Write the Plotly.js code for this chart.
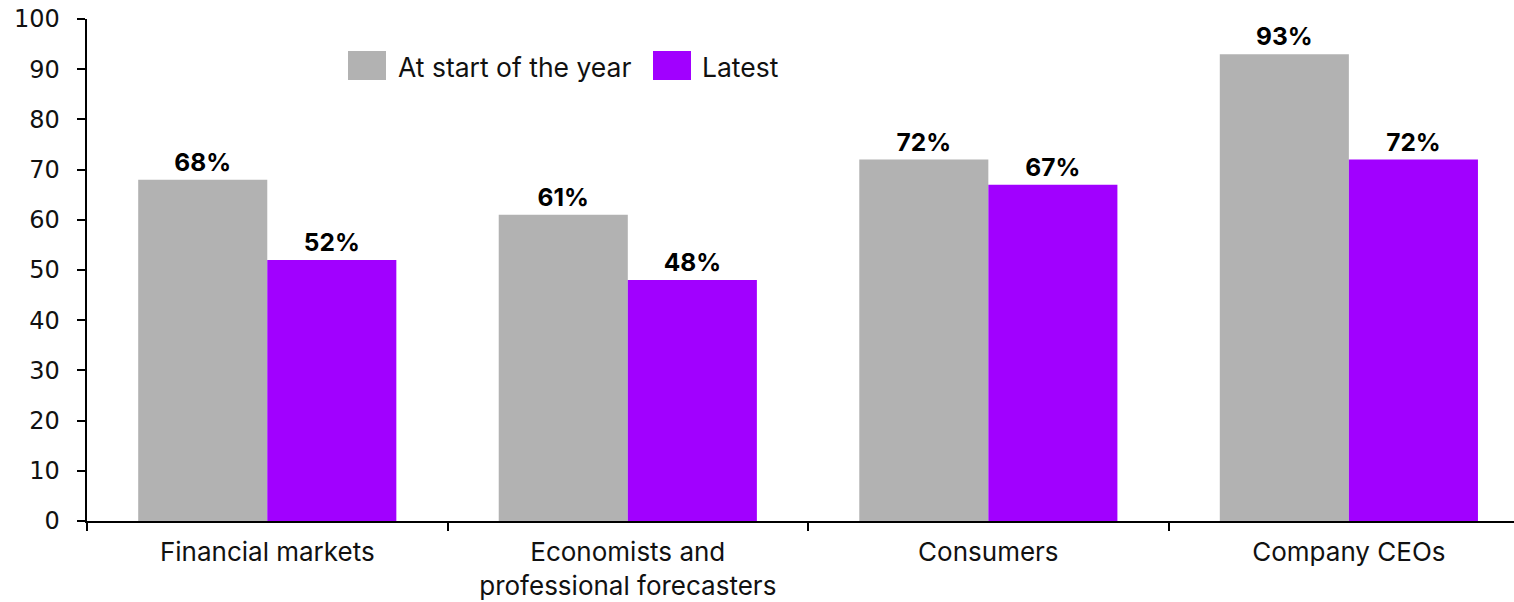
<!DOCTYPE html>
<html><head><meta charset="utf-8">
<script src="https://cdn.plot.ly/plotly-3.0.1.min.js"></script>
<style>html,body{margin:0;padding:0;background:#fff}#chart{width:1514px;height:602px}</style>
</head><body><div id="chart"></div>
<script>
const categories = ["Financial markets", "Economists and<br>professional forecasters", "Consumers", "Company CEOs"];
const seriesNames = ["At start of the year", "Latest"];
const startOfYear = [68, 61, 72, 93];
const latest = [52, 48, 67, 72];
const yTicks = [0,10,20,30,40,50,60,70,80,90,100];

const FONT = "Inter, 'Noto Sans', sans-serif";
const GREY = "#b2b2b2", PURPLE = "#a100ff";

// pixel helpers for the custom legend (plot area: x 87..1514, y 19..521.5)
const L = 87, R = 1514, T = 19, B = 521.5;
const px = v => (v - L) / (R - L);
const py = v => (B - v) / (B - T);

const common = {
  type: "bar", texttemplate: "%{y}%", textposition: "outside", cliponaxis: false,
  textfont: {family: FONT, size: 24.5, color: "#000", weight: 700},
  hoverinfo: "skip", showlegend: false
};
const traces = [
  Object.assign({}, common, {x: categories, y: startOfYear, name: seriesNames[0], marker: {color: GREY}}),
  Object.assign({}, common, {x: categories, y: latest, name: seriesNames[1], marker: {color: PURPLE}})
];

const layout = {
  width: 1514, height: 602,
  margin: {l: L, r: 0, t: T, b: 602 - B},
  paper_bgcolor: "#fff", plot_bgcolor: "#fff",
  barmode: "group", bargap: 0.284, bargroupgap: 0,
  font: {family: FONT, size: 22, color: "#000"},
  xaxis: {
    type: "category", range: [-0.5, 3.458], showline: true, linecolor: "#000", linewidth: 2,
    ticks: "outside", tickson: "boundaries", ticklen: 8, tickwidth: 2, tickcolor: "#000",
    ticklabelstandoff: 7,
    showgrid: false, zeroline: false, tickfont: {family: FONT, size: 26, color: "#111"}
  },
  yaxis: {
    range: [0, 100], tickmode: "array", tickvals: yTicks,
    ticktext: yTicks.map(v => v + "\u00a0\u2009"),
    showline: true, linecolor: "#000", linewidth: 2,
    ticks: "outside", ticklen: 8, tickwidth: 2, tickcolor: "#000",
    showgrid: false, zeroline: false, tickfont: {family: "DejaVu Sans", size: 24, color: "#111"}
  },
  showlegend: false,
  shapes: [
    {type: "rect", xref: "paper", yref: "paper", x0: px(348), x1: px(386), y0: py(80), y1: py(51), fillcolor: GREY, line: {width: 0}},
    {type: "rect", xref: "paper", yref: "paper", x0: px(653), x1: px(691), y0: py(80), y1: py(51), fillcolor: PURPLE, line: {width: 0}}
  ],
  annotations: [
    {xref: "paper", yref: "paper", x: px(396), y: py(67), xanchor: "left", yanchor: "middle", text: seriesNames[0], showarrow: false, font: {family: FONT, size: 26.5, color: "#111"}},
    {xref: "paper", yref: "paper", x: px(700), y: py(67), xanchor: "left", yanchor: "middle", text: seriesNames[1], showarrow: false, font: {family: FONT, size: 26.5, color: "#111"}}
  ]
};
Plotly.newPlot("chart", traces, layout, {displayModeBar: false, staticPlot: true});
</script></body></html>
